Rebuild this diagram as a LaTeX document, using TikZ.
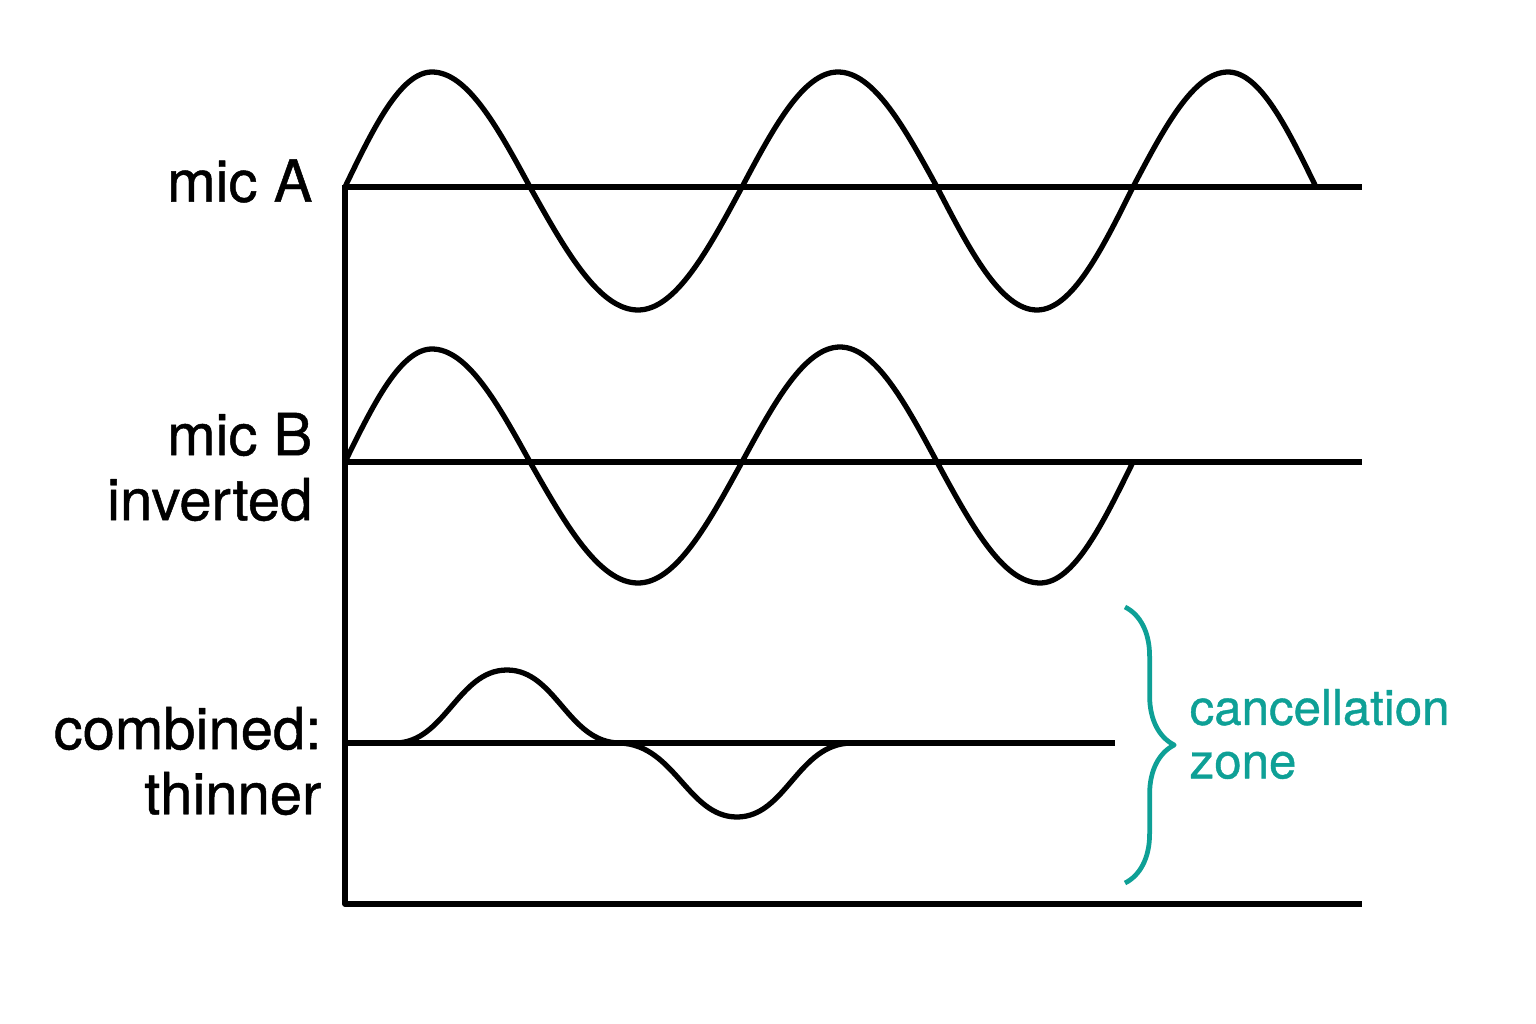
\documentclass[tikz,border=0pt]{standalone}
\usepackage{fontspec}
\setmainfont{TeX Gyre Heros}[BoldFont={TeX Gyre Heros}, BoldFeatures={FakeBold=0.8}]
\usetikzlibrary{decorations.pathreplacing}
\definecolor{zoneteal}{RGB}{14,160,150}

\begin{document}
\begin{tikzpicture}[x=0.01cm, y=-0.01cm, line width=1.5pt, line join=round,
    every node/.style={inner sep=0pt, font=\fontsize{16.5}{18.5}\selectfont\bfseries},
    lbl/.style={anchor=east, align=right}]
    \useasboundingbox (0,0) rectangle (1536,1024);

    \coordinate (top) at (345,185);
    \coordinate (O) at (345,904);
    \coordinate (A0) at (345,187);
    \coordinate (B0) at (345,462);
    \coordinate (C0) at (345,743);

    % axes and base lines
    \draw (top) -- (O) -- (1362,904);
    \draw (A0) -- (1362,187);
    \draw (B0) -- (1362,462);
    \draw (C0) -- (1115,743);

    % mic A
    \draw (A0) sin (432,72) cos (530,187) sin (638,310) cos (742,187)
        sin (838,72) cos (937,187) sin (1037,310) cos (1133,187)
        sin (1228,72) cos (1316,187);

    % mic B
    \draw (B0) sin (432,349) cos (530,462) sin (638,583) cos (742,462)
        sin (840,347) cos (937,462) sin (1040,583) cos (1133,462);

    % combined
    \draw (395,743) .. controls (445,743) and (458,670) .. (507,670)
        .. controls (556,670) and (568,743) .. (620,743)
        .. controls (675,745) and (688,817) .. (737,817)
        .. controls (786,817) and (798,743) .. (852,743);

    \node[lbl] (labA) at (315,181) {mic A};
    \node[lbl] (labB) at (315,467) {mic B\\inverted};
    \node[lbl] (labC) at (324,761) {combined:\\thinner};

    \draw[zoneteal, line width=1.35pt, decorate, decoration={brace, amplitude=14pt}]
        (1125,607) -- (1125,883);
    \node[anchor=west, align=left, text=zoneteal,
        font=\fontsize{14}{15.2}\selectfont\bfseries] (zone) at (1187,734) {cancellation\\zone};
\end{tikzpicture}
\end{document}
